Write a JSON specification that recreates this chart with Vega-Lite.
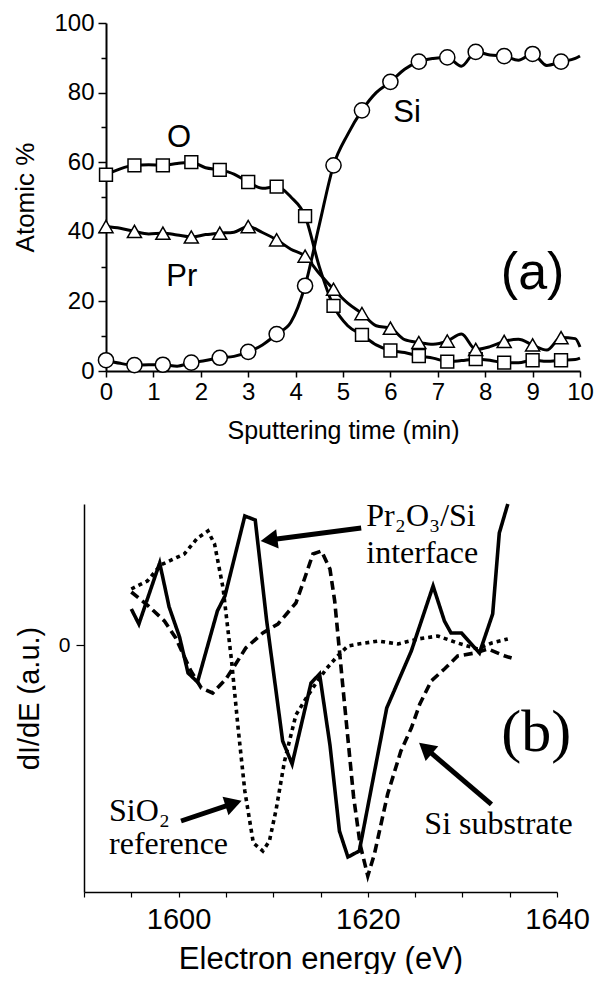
{
  "$schema": "https://vega.github.io/schema/vega-lite/v6.json",
  "background": "white",
  "padding": {"left": 12, "top": 11, "right": 0, "bottom": 0},
  "columns": 1,
  "align": "each",
  "spacing": 53,
  "config": {
    "view": {"stroke": null},
    "font": "Liberation Sans",
    "axis": {
      "grid": false,
      "domainColor": "black",
      "domainWidth": 2,
      "tickColor": "black",
      "tickWidth": 1.5,
      "labelColor": "black",
      "titleColor": "black",
      "labelFont": "Liberation Sans",
      "titleFont": "Liberation Sans",
      "titleFontWeight": "normal",
      "labelFlush": false,
      "labelOverlap": false
    }
  },
  "datasets": {
    "depth": [
      {"t": 0.0, "O": 56.4, "Pr": 41.5, "Si": 3.1},
      {"t": 0.3, "O": 58.1, "Pr": 41.0, "Si": 2.2},
      {"t": 0.6, "O": 59.1, "Pr": 40.1, "Si": 1.7},
      {"t": 0.9, "O": 59.3, "Pr": 39.4, "Si": 1.8},
      {"t": 1.2, "O": 59.1, "Pr": 39.6, "Si": 1.8},
      {"t": 1.5, "O": 59.6, "Pr": 39.1, "Si": 1.4},
      {"t": 1.8, "O": 60.0, "Pr": 38.5, "Si": 2.4},
      {"t": 2.1, "O": 58.4, "Pr": 39.2, "Si": 3.0},
      {"t": 2.4, "O": 57.8, "Pr": 39.6, "Si": 3.8},
      {"t": 2.7, "O": 56.6, "Pr": 39.9, "Si": 4.2},
      {"t": 3.0, "O": 54.3, "Pr": 41.5, "Si": 5.5},
      {"t": 3.3, "O": 52.5, "Pr": 39.8, "Si": 7.5},
      {"t": 3.6, "O": 53.0, "Pr": 37.7, "Si": 10.6},
      {"t": 3.9, "O": 50.0, "Pr": 35.0, "Si": 14.0},
      {"t": 4.2, "O": 44.5, "Pr": 33.0, "Si": 24.5},
      {"t": 4.5, "O": 30.0, "Pr": 28.0, "Si": 42.0},
      {"t": 4.8, "O": 18.7, "Pr": 23.5, "Si": 59.1},
      {"t": 5.1, "O": 13.0, "Pr": 19.5, "Si": 68.0},
      {"t": 5.4, "O": 10.4, "Pr": 16.5, "Si": 74.9},
      {"t": 5.7, "O": 7.5, "Pr": 13.0, "Si": 80.0},
      {"t": 6.0, "O": 5.9, "Pr": 12.3, "Si": 83.1},
      {"t": 6.3, "O": 5.3, "Pr": 9.0, "Si": 86.7},
      {"t": 6.6, "O": 4.3, "Pr": 8.2, "Si": 88.9},
      {"t": 6.9, "O": 3.7, "Pr": 7.7, "Si": 89.8},
      {"t": 7.2, "O": 2.7, "Pr": 8.6, "Si": 90.1},
      {"t": 7.5, "O": 3.0, "Pr": 10.6, "Si": 87.6},
      {"t": 7.8, "O": 3.4, "Pr": 6.2, "Si": 91.7},
      {"t": 8.1, "O": 3.1, "Pr": 7.0, "Si": 90.8},
      {"t": 8.4, "O": 2.4, "Pr": 8.5, "Si": 90.5},
      {"t": 8.7, "O": 2.4, "Pr": 9.1, "Si": 89.3},
      {"t": 9.0, "O": 3.1, "Pr": 7.5, "Si": 91.1},
      {"t": 9.3, "O": 2.8, "Pr": 6.0, "Si": 87.8},
      {"t": 9.6, "O": 3.1, "Pr": 9.6, "Si": 88.9},
      {"t": 9.9, "O": 3.3, "Pr": 9.3, "Si": 89.8},
      {"t": 10.0, "O": 3.7, "Pr": 6.9, "Si": 90.5}
    ],
    "labelsA": [
      {"t": 1.54, "v": 64.3, "label": "O"},
      {"t": 1.6, "v": 24.5, "label": "Pr"},
      {"t": 6.35, "v": 71.5, "label": "Si"}
    ],
    "tagA": [
      {"t": 9.0, "v": 23.6, "label": "(a)"}
    ],
    "spectra": [
      {"E": 1595.0, "s": "interface", "v": 36},
      {"E": 1595.8, "s": "interface", "v": 21},
      {"E": 1598.0, "s": "interface", "v": 82},
      {"E": 1599.0, "s": "interface", "v": 38},
      {"E": 1600.1, "s": "interface", "v": 8},
      {"E": 1601.0, "s": "interface", "v": -28},
      {"E": 1602.0, "s": "interface", "v": -37},
      {"E": 1604.1, "s": "interface", "v": 34},
      {"E": 1604.9, "s": "interface", "v": 49},
      {"E": 1607.0, "s": "interface", "v": 129},
      {"E": 1608.1, "s": "interface", "v": 125},
      {"E": 1609.3, "s": "interface", "v": 25},
      {"E": 1611.0, "s": "interface", "v": -96},
      {"E": 1612.0, "s": "interface", "v": -119},
      {"E": 1614.0, "s": "interface", "v": -38},
      {"E": 1614.9, "s": "interface", "v": -29},
      {"E": 1616.0, "s": "interface", "v": -100},
      {"E": 1617.0, "s": "interface", "v": -186},
      {"E": 1617.9, "s": "interface", "v": -212},
      {"E": 1619.1, "s": "interface", "v": -206},
      {"E": 1622.0, "s": "interface", "v": -63},
      {"E": 1624.6, "s": "interface", "v": -6},
      {"E": 1626.9, "s": "interface", "v": 59},
      {"E": 1628.1, "s": "interface", "v": 24},
      {"E": 1628.8, "s": "interface", "v": 12},
      {"E": 1629.9, "s": "interface", "v": 12},
      {"E": 1631.8, "s": "interface", "v": -8},
      {"E": 1633.2, "s": "interface", "v": 31},
      {"E": 1633.9, "s": "interface", "v": 112},
      {"E": 1634.8, "s": "interface", "v": 141},
      {"E": 1595.0, "s": "substrate", "v": 53},
      {"E": 1596.7, "s": "substrate", "v": 40},
      {"E": 1598.5, "s": "substrate", "v": 24},
      {"E": 1599.7, "s": "substrate", "v": 7},
      {"E": 1601.3, "s": "substrate", "v": -26},
      {"E": 1602.4, "s": "substrate", "v": -43},
      {"E": 1603.6, "s": "substrate", "v": -48},
      {"E": 1605.0, "s": "substrate", "v": -34},
      {"E": 1606.1, "s": "substrate", "v": -18},
      {"E": 1607.1, "s": "substrate", "v": -3},
      {"E": 1608.9, "s": "substrate", "v": 12},
      {"E": 1610.5, "s": "substrate", "v": 21},
      {"E": 1612.4, "s": "substrate", "v": 42},
      {"E": 1613.3, "s": "substrate", "v": 66},
      {"E": 1614.2, "s": "substrate", "v": 91},
      {"E": 1615.1, "s": "substrate", "v": 94},
      {"E": 1616.0, "s": "substrate", "v": 76},
      {"E": 1616.5, "s": "substrate", "v": 44},
      {"E": 1617.5, "s": "substrate", "v": -55},
      {"E": 1618.5, "s": "substrate", "v": -152},
      {"E": 1619.2, "s": "substrate", "v": -200},
      {"E": 1620.0, "s": "substrate", "v": -231},
      {"E": 1620.7, "s": "substrate", "v": -209},
      {"E": 1622.1, "s": "substrate", "v": -149},
      {"E": 1623.5, "s": "substrate", "v": -106},
      {"E": 1624.6, "s": "substrate", "v": -83},
      {"E": 1625.5, "s": "substrate", "v": -59},
      {"E": 1626.7, "s": "substrate", "v": -36},
      {"E": 1628.1, "s": "substrate", "v": -24},
      {"E": 1629.5, "s": "substrate", "v": -11},
      {"E": 1631.3, "s": "substrate", "v": -8},
      {"E": 1632.7, "s": "substrate", "v": -4},
      {"E": 1634.5, "s": "substrate", "v": -11},
      {"E": 1635.2, "s": "substrate", "v": -13},
      {"E": 1595.0, "s": "reference", "v": 56},
      {"E": 1596.7, "s": "reference", "v": 64},
      {"E": 1598.1, "s": "reference", "v": 80},
      {"E": 1600.6, "s": "reference", "v": 91},
      {"E": 1602.0, "s": "reference", "v": 107},
      {"E": 1603.1, "s": "reference", "v": 114},
      {"E": 1603.8, "s": "reference", "v": 101},
      {"E": 1604.7, "s": "reference", "v": 57},
      {"E": 1605.6, "s": "reference", "v": -16},
      {"E": 1606.3, "s": "reference", "v": -84},
      {"E": 1607.0, "s": "reference", "v": -146},
      {"E": 1607.9, "s": "reference", "v": -198},
      {"E": 1608.9, "s": "reference", "v": -206},
      {"E": 1609.6, "s": "reference", "v": -196},
      {"E": 1610.3, "s": "reference", "v": -165},
      {"E": 1611.2, "s": "reference", "v": -116},
      {"E": 1612.4, "s": "reference", "v": -70},
      {"E": 1613.5, "s": "reference", "v": -53},
      {"E": 1614.4, "s": "reference", "v": -40},
      {"E": 1615.6, "s": "reference", "v": -24},
      {"E": 1616.8, "s": "reference", "v": -11},
      {"E": 1617.9, "s": "reference", "v": -1},
      {"E": 1619.0, "s": "reference", "v": 1},
      {"E": 1621.1, "s": "reference", "v": 4},
      {"E": 1623.2, "s": "reference", "v": 1},
      {"E": 1625.3, "s": "reference", "v": 6},
      {"E": 1627.4, "s": "reference", "v": 9},
      {"E": 1629.5, "s": "reference", "v": 2},
      {"E": 1631.6, "s": "reference", "v": -4},
      {"E": 1633.1, "s": "reference", "v": 2},
      {"E": 1634.8, "s": "reference", "v": 6}
    ],
    "labelsB": [
      {"E": 1619.84, "v": 119, "label": "Pr₂O₃/Si"},
      {"E": 1619.84, "v": 82, "label": "interface"},
      {"E": 1592.65, "v": -176, "label": "SiO₂"},
      {"E": 1592.65, "v": -209, "label": "reference"},
      {"E": 1625.98, "v": -189, "label": "Si substrate"}
    ],
    "tagB": [
      {"E": 1637.8, "v": -106, "label": "(b)"}
    ],
    "arrows": [
      {"id": "interface", "E": 1619.3, "v": 117, "hE": 1609.56, "hv": 105},
      {"id": "reference", "E": 1600.26, "v": -176, "hE": 1605.81, "hv": -158.4},
      {"id": "substrate", "E": 1633.07, "v": -159.3, "hE": 1626.1, "hv": -103.2}
    ]
  },
  "concat": [
    {
      "width": 474,
      "height": 348,
      "encoding": {
        "x": {
          "field": "t",
          "type": "quantitative",
          "scale": {"domain": [0, 10], "nice": false, "zero": false},
          "axis": {
            "title": "Sputtering time (min)",
            "format": "d",
            "values": [0, 0.5, 1, 1.5, 2, 2.5, 3, 3.5, 4, 4.5, 5, 5.5, 6, 6.5, 7, 7.5, 8, 8.5, 9, 9.5, 10],
            "labelExpr": "datum.value % 1 === 0 ? datum.label : ''",
            "tickSize": {"condition": {"test": "datum.value % 1 === 0", "value": 6}, "value": 3},
            "labelFontSize": 24,
            "titleFontSize": 25,
            "labelPadding": 3,
            "titlePadding": 14
          }
        },
        "y": {
          "field": "v",
          "type": "quantitative",
          "scale": {"domain": [0, 100], "nice": false},
          "axis": {
            "title": "Atomic %",
            "values": [0, 10, 20, 30, 40, 50, 60, 70, 80, 90, 100],
            "labelExpr": "datum.value % 20 === 0 ? datum.label : ''",
            "tickSize": {"condition": {"test": "datum.value % 20 === 0", "value": 8}, "value": 5},
            "labelFontSize": 24,
            "titleFontSize": 26,
            "labelPadding": 4,
            "titlePadding": 15,
            "minExtent": 53,
            "maxExtent": 53
          }
        }
      },
      "layer": [
        {
          "data": {"name": "depth"},
          "transform": [{"fold": ["O", "Pr", "Si"], "as": ["el", "v"]}],
          "mark": {"type": "line", "interpolate": "monotone", "color": "black", "strokeWidth": 3},
          "encoding": {"detail": {"field": "el", "type": "nominal"}}
        },
        {
          "data": {"name": "depth"},
          "transform": [
            {"fold": ["O", "Pr", "Si"], "as": ["el", "v"]},
            {"filter": "round(datum.t * 10) % 6 == 0"}
          ],
          "mark": {"type": "point", "filled": true, "fill": "white", "stroke": "black", "strokeWidth": 1.5, "opacity": 1},
          "encoding": {
            "shape": {"field": "el", "type": "nominal", "scale": {"domain": ["O", "Pr", "Si"], "range": ["square", "triangle-up", "circle"]}, "legend": null},
            "size": {"field": "el", "type": "nominal", "scale": {"domain": ["O", "Pr", "Si"], "range": [165, 230, 150]}, "legend": null}
          }
        },
        {
          "data": {"name": "labelsA"},
          "mark": {"type": "text", "font": "Liberation Sans", "fontSize": 31, "align": "center", "baseline": "alphabetic", "color": "black"},
          "encoding": {"text": {"field": "label"}}
        },
        {
          "data": {"name": "tagA"},
          "mark": {"type": "text", "font": "Liberation Sans", "fontSize": 52, "align": "center", "baseline": "alphabetic", "color": "black"},
          "encoding": {"text": {"field": "label"}}
        }
      ]
    },
    {
      "width": 451,
      "height": 388,
      "layer": [
        {
          "data": {"name": "spectra"},
          "mark": {"type": "line", "color": "black", "strokeWidth": 3.6, "strokeCap": "butt"},
          "encoding": {
            "x": {
              "field": "E",
              "type": "quantitative",
              "scale": {"domain": [1590, 1640], "nice": false, "zero": false, "range": [-22, 451]},
              "axis": {
                "title": "Electron energy (eV)",
                "format": "d",
                "values": [1590, 1595, 1600, 1605, 1610, 1615, 1620, 1625, 1630, 1635, 1640],
                "labelExpr": "datum.value % 20 === 0 ? datum.label : ''",
                "tickSize": 5,
                "domainWidth": 1.5,
                "tickWidth": 1.2,
                "labelFontSize": 29,
                "titleFontSize": 31,
                "labelPadding": 8,
                "titlePadding": 10
              }
            },
            "y": {
              "field": "v",
              "type": "quantitative",
              "scale": {"domain": [-247, 141], "nice": false, "zero": false},
              "axis": {
                "title": "dI/dE (a.u.)",
                "values": [0],
                "offset": 22,
                "tickSize": 8,
                "domainWidth": 1.5,
                "tickWidth": 1.2,
                "labelFontSize": 21,
                "titleFontSize": 29,
                "labelPadding": 6,
                "titlePadding": 15,
                "minExtent": 25,
                "maxExtent": 25
              }
            },
            "detail": {"field": "s", "type": "nominal"},
            "strokeDash": {
              "field": "s",
              "type": "nominal",
              "scale": {"domain": ["interface", "substrate", "reference"], "range": [[1, 0], [9, 5], [4, 4]]},
              "legend": null
            }
          }
        },
        {
          "data": {"name": "arrows"},
          "mark": {"type": "rule", "color": "black", "strokeWidth": 5},
          "encoding": {
            "x": {"field": "E", "type": "quantitative"},
            "y": {"field": "v", "type": "quantitative"},
            "x2": {"field": "hE"},
            "y2": {"field": "hv"}
          }
        },
        {
          "data": {"name": "arrows"},
          "transform": [{"filter": "datum.id == 'interface'"}],
          "mark": {"type": "point", "shape": "triangle-up", "filled": true, "color": "black", "opacity": 1, "size": 380, "angle": 262.6},
          "encoding": {
            "x": {"field": "hE", "type": "quantitative"},
            "y": {"field": "hv", "type": "quantitative"}
          }
        },
        {
          "data": {"name": "arrows"},
          "transform": [{"filter": "datum.id == 'reference'"}],
          "mark": {"type": "point", "shape": "triangle-up", "filled": true, "color": "black", "opacity": 1, "size": 380, "angle": 72.4},
          "encoding": {
            "x": {"field": "hE", "type": "quantitative"},
            "y": {"field": "hv", "type": "quantitative"}
          }
        },
        {
          "data": {"name": "arrows"},
          "transform": [{"filter": "datum.id == 'substrate'"}],
          "mark": {"type": "point", "shape": "triangle-up", "filled": true, "color": "black", "opacity": 1, "size": 380, "angle": 310.3},
          "encoding": {
            "x": {"field": "hE", "type": "quantitative"},
            "y": {"field": "hv", "type": "quantitative"}
          }
        },
        {
          "data": {"name": "labelsB"},
          "mark": {"type": "text", "font": "Liberation Serif", "fontSize": 32, "align": "left", "baseline": "alphabetic", "color": "black"},
          "encoding": {
            "x": {"field": "E", "type": "quantitative"},
            "y": {"field": "v", "type": "quantitative"},
            "text": {"field": "label"}
          }
        },
        {
          "data": {"name": "tagB"},
          "mark": {"type": "text", "font": "Liberation Serif", "fontSize": 60, "align": "center", "baseline": "alphabetic", "color": "black"},
          "encoding": {
            "x": {"field": "E", "type": "quantitative"},
            "y": {"field": "v", "type": "quantitative"},
            "text": {"field": "label"}
          }
        }
      ]
    }
  ]
}
